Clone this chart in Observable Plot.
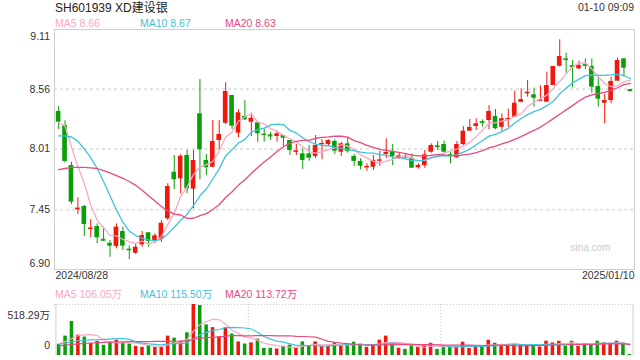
<!DOCTYPE html>
<html><head><meta charset="utf-8">
<script src="https://cdn.jsdelivr.net/npm/d3@7"></script>
<script src="https://cdn.jsdelivr.net/npm/@observablehq/plot@0.6"></script>
<style>
body{margin:0;background:#fff;font-family:"Liberation Sans",Arial,"Noto Sans CJK SC",sans-serif;}
#wrap{position:relative;width:640px;height:360px;overflow:hidden;}
.t{position:absolute;white-space:nowrap;line-height:1;font-size:10.5px;}
#main,#vol{position:absolute;left:0;}
#main{top:24px;} #vol{top:300px;}
</style></head><body><div id="wrap"><div id="main"></div><div id="vol"></div></div>
<script>
// ---- text / labels ----
const title = "SH601939 XD建设银";
const stamp = "01-10 09:09";
const maNames = ["MA5", "MA10", "MA20"];
const maHeader = ["8.66", "8.67", "8.63"];
const volMaHeader = ["106.05万", "115.50万", "113.72万"];
const yTicks = [9.11, 8.56, 8.01, 7.45, 6.90];
const dateLabels = ["2024/08/28", "2025/01/10"];
const volTickLabels = ["518.29万", "0"];
const volMax = 518.29;
const watermark = "sina.com";

// ---- daily OHLC (CNY), 2024/08/28 .. 2025/01/10 ----
const open = [8.355,8.226,7.858,7.45,7.48,7.271,7.296,7.179,7.142,7.112,
7.25,7.087,7.05,7.127,7.238,7.167,7.176,7.367,7.796,7.735,
7.95,7.64,8.334,7.904,7.842,8.088,8.247,8.502,8.155,8.309,
8.256,8.251,8.146,8.14,8.125,8.134,8.088,7.984,7.965,7.965,
7.941,8.054,8.051,8.079,7.98,8.057,7.941,7.895,7.839,7.842,
7.901,7.959,7.987,7.938,7.943,7.925,7.837,7.858,7.98,8.039,
8.051,7.956,7.929,8.051,8.174,8.217,8.263,8.272,8.309,8.21,
8.281,8.303,8.44,8.518,8.509,8.453,8.44,8.594,8.772,8.84,
8.776,8.748,8.788,8.769,8.585,8.431,8.456,8.634,8.84,8.556];
const high = [8.40,8.27,7.888,7.56,7.49,7.36,7.321,7.29,7.167,7.32,
7.29,7.118,7.136,7.25,7.24,7.229,7.35,7.69,7.95,7.956,
7.996,7.996,8.65,7.96,8.272,8.272,8.62,8.502,8.37,8.456,
8.339,8.263,8.195,8.164,8.174,8.134,8.088,8.051,8.011,8.042,
8.134,8.094,8.094,8.094,8.072,8.118,7.959,7.92,7.873,7.95,
7.99,8.104,8.051,7.971,7.959,7.965,7.873,7.996,8.057,8.079,
8.082,7.98,8.079,8.217,8.281,8.288,8.278,8.41,8.373,8.334,
8.376,8.542,8.564,8.64,8.57,8.592,8.717,8.769,9.015,8.892,
8.825,8.818,8.84,8.84,8.671,8.511,8.671,8.846,8.84,8.556];
const low = [8.19,7.88,7.498,7.406,7.204,7.192,7.137,7.16,7.013,7.09,
7.075,6.99,7.038,7.105,7.105,7.142,7.15,7.35,7.634,7.597,
7.597,7.459,7.726,7.766,7.837,8.002,8.235,8.19,8.113,8.272,
8.125,8.072,8.072,8.088,8.072,8.033,7.95,7.95,7.821,7.897,
7.92,7.91,8.033,7.959,7.941,7.971,7.849,7.818,7.805,7.812,
7.849,7.92,7.858,7.913,7.92,7.833,7.824,7.833,7.971,7.996,
7.974,7.873,7.92,8.042,8.174,8.18,8.21,8.186,8.186,8.174,
8.21,8.297,8.435,8.487,8.395,8.45,8.44,8.594,8.763,8.708,
8.573,8.739,8.742,8.523,8.395,8.242,8.426,8.634,8.671,8.548];
const close = [8.256,7.895,7.52,7.465,7.314,7.28,7.192,7.17,7.115,7.29,
7.115,7.082,7.105,7.213,7.158,7.21,7.326,7.664,7.726,7.943,
7.643,7.904,8.002,7.837,8.079,8.143,8.539,8.22,8.343,8.278,
8.293,8.15,8.134,8.131,8.15,8.109,7.996,7.99,7.904,7.925,
8.042,8.06,8.088,7.99,8.057,7.987,7.895,7.851,7.846,7.904,
7.907,7.977,7.941,7.943,7.935,7.833,7.858,7.956,8.042,8.033,
7.98,7.941,8.051,8.174,8.208,8.242,8.256,8.355,8.196,8.288,
8.288,8.431,8.465,8.533,8.477,8.459,8.594,8.769,8.861,8.825,
8.769,8.779,8.781,8.579,8.468,8.456,8.631,8.825,8.754,8.548];
// ---- daily volume (万手) ----
const volume = [114,197,346,207,187,121,145,104,131,155,
128,117,93,83,100,83,86,197,176,145,
231,518.29,508,311,283,190,283,218,138,117,
128,166,73,73,66,93,104,79,138,97,
138,93,93,128,93,114,135,114,83,107,
155,197,128,73,62,97,83,104,124,62,
83,86,90,135,73,93,83,155,124,107,
111,121,104,104,97,86,145,128,145,93,
145,93,117,114,145,128,124,145,121,10];
// moving-average values at the start of the window (history before 08/28)
const ma5Lead = [8.256, 8.22, 8.03, 7.85];
const ma10Lead = [8.13, 8.13, 8.12, 8.08, 8.01, 7.93, 7.83, 7.71, 7.58];
const ma20Lead = [7.82, 7.83, 7.84, 7.84, 7.84, 7.835, 7.83, 7.81, 7.79, 7.765, 7.74, 7.71, 7.675, 7.63, 7.58, 7.53, 7.48, 7.44, 7.41];
const vma5Lead = [121, 145, 173, 204];
const vma10Lead = [114, 125, 140, 150, 155, 158, 160, 163, 167];
const vma20Lead = [97, 105, 112, 118, 123, 127, 130, 133, 135, 137, 139, 140, 141, 142, 142, 143, 143, 144, 145];

// ---- styles ----
const RED = "#f0170d", GREEN = "#0a9f0a";
const maColors = ["#f8a9c5", "#3ec3de", "#ea4a7e"];
const FONT = '"Liberation Sans", Arial, "Noto Sans CJK SC", sans-serif';

const N = close.length;
const idx = d3.range(N);
const rows = idx.map(i => ({i, o: open[i], h: high[i], l: low[i], c: close[i], v: volume[i],
  color: close[i] >= open[i] ? RED : GREEN}));
function movingAvg(vals, k, lead) {
  return vals.map((_, i) => i < k - 1 ? lead[i] : d3.mean(vals.slice(i - k + 1, i + 1)));
}
const priceMA = [movingAvg(close, 5, ma5Lead), movingAvg(close, 10, ma10Lead), movingAvg(close, 20, ma20Lead)];
const volMA = [movingAvg(volume, 5, vma5Lead), movingAvg(volume, 10, vma10Lead), movingAvg(volume, 20, vma20Lead)];
const maRows = (arrs) => arrs.flatMap((a, s) => a.map((v, i) => ({i, v, s})));

const W = 640, ML = 54, MR = 6;
const step = (W - ML - MR) / N;

// ---- header (HTML text) ----
const wrap = document.getElementById("wrap");
function addText(txt, css) {
  const d = document.createElement("div");
  d.className = "t"; d.textContent = txt;
  Object.assign(d.style, css);
  wrap.appendChild(d);
}
addText(title, {left: "55px", top: "1.5px", fontSize: "12px", color: "#222"});
addText(stamp, {right: "6px", top: "2px", color: "#333"});
const legX = [55, 140, 225];
maNames.forEach((n, k) => {
  addText(n + " " + maHeader[k], {left: legX[k] + "px", top: "18.3px", color: maColors[k]});
  addText(n + " " + volMaHeader[k], {left: legX[k] + "px", top: "289.4px", color: maColors[k]});
});

// ---- price chart ----
const main = Plot.plot({
  width: W, height: 262,
  marginLeft: ML, marginRight: MR, marginTop: 5, marginBottom: 17,
  style: {fontFamily: FONT, fontSize: "10.5px", color: "#333", background: "transparent", overflow: "visible"},
  x: {type: "band", domain: idx, padding: 0.28, axis: null},
  y: {domain: [yTicks[yTicks.length - 1], yTicks[0]], axis: null},
  color: {type: "identity"},
  marks: [
    Plot.ruleY(yTicks.slice(1, -1), {stroke: "#e2e2e2", strokeWidth: 2, strokeDasharray: "3,3"}),
    Plot.frame({stroke: "#cfcfcf"}),
    Plot.text([watermark], {text: d => d, frameAnchor: "bottom-right", textAnchor: "end", dx: -24, dy: -19, fill: "#cccccc", fontSize: 10}),
    Plot.ruleX(rows, {x: "i", y1: "l", y2: "h", stroke: "color", strokeWidth: 1}),
    Plot.barY(rows, {x: "i", y1: d => Math.min(d.o, d.c), y2: d => Math.max(d.o, d.c), fill: "color"}),
    Plot.tickY(rows, {filter: d => Math.abs(d.o - d.c) < 0.012, x: "i", y: "c", stroke: "color", strokeWidth: 1.2}),
    Plot.line(maRows(priceMA), {x: "i", y: "v", z: "s", stroke: d => maColors[d.s], strokeWidth: 1.3}),
    Plot.text(yTicks.slice(1, -1), {y: d => d, text: d => d.toFixed(2), frameAnchor: "left", textAnchor: "end", dx: -4.5, fill: "#333"}),
    Plot.text([yTicks[0]], {y: d => d, text: d => d.toFixed(2), frameAnchor: "left", textAnchor: "end", dx: -4.5, dy: 6.7, fill: "#333"}),
    Plot.text([yTicks[yTicks.length - 1]], {y: d => d, text: d => d.toFixed(2), frameAnchor: "left", textAnchor: "end", dx: -4.5, dy: -6, fill: "#333"}),
    Plot.text([dateLabels[0]], {text: d => d, frameAnchor: "bottom-left", textAnchor: "start", dx: 1, dy: 9, fill: "#333"}),
    Plot.text([dateLabels[1]], {text: d => d, frameAnchor: "bottom-right", textAnchor: "end", dy: 9, fill: "#333"})
  ]
});
document.getElementById("main").appendChild(main);

// ---- volume chart ----
const vol = Plot.plot({
  width: W, height: 56,
  marginLeft: ML, marginRight: MR, marginTop: 4, marginBottom: 1,
  style: {fontFamily: FONT, fontSize: "10.5px", color: "#333", background: "transparent", overflow: "visible"},
  x: {type: "band", domain: idx, padding: 0.45, axis: null},
  y: {domain: [0, volMax], axis: null},
  color: {type: "identity"},
  marks: [
    Plot.ruleY([volMax], {stroke: "#c8c8c8", strokeDasharray: "1,2"}),
    Plot.ruleX([30, 60], {x: d => d, dx: -step / 2, stroke: "#c8c8c8", strokeDasharray: "1,2"}),
    Plot.ruleX([0], {x: d => d, dx: -step / 2, stroke: "#cfcfcf"}),
    Plot.ruleX([N - 1], {x: d => d, dx: step / 2, stroke: "#cfcfcf"}),
    Plot.barY(rows, {x: "i", y: "v", fill: "color"}),
    Plot.line(maRows(volMA), {x: "i", y: "v", z: "s", stroke: d => maColors[d.s], strokeWidth: 1.2}),
    Plot.text([volTickLabels[0]], {text: d => d, frameAnchor: "top-left", textAnchor: "end", dx: -4.5, dy: 7, fill: "#333"}),
    Plot.text([volTickLabels[1]], {text: d => d, frameAnchor: "bottom-left", textAnchor: "end", dx: -4.5, dy: -7, fill: "#333"})
  ]
});
document.getElementById("vol").appendChild(vol);
</script></body></html>
